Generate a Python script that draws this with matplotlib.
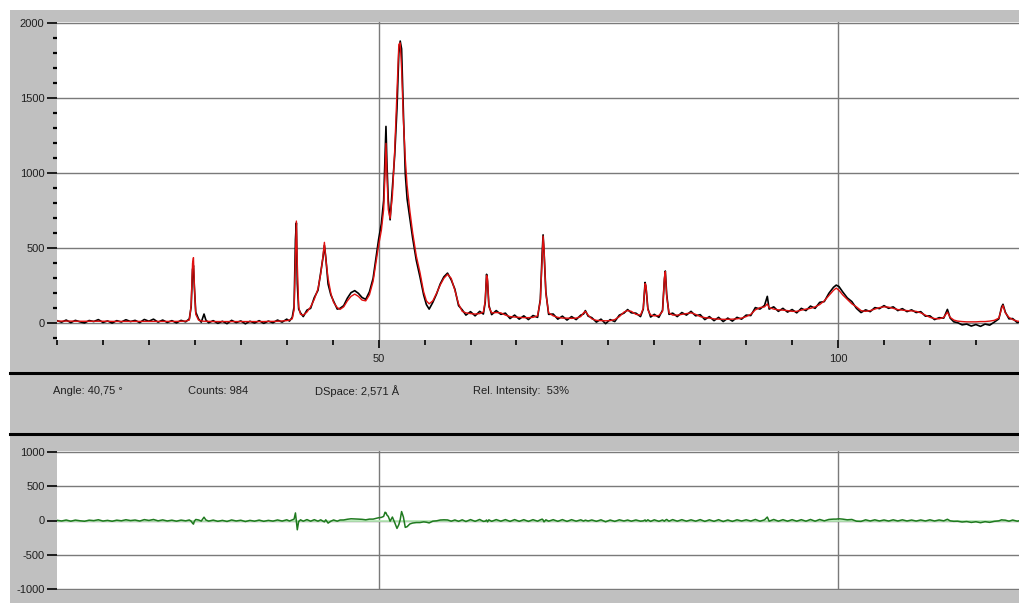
import numpy as np
import matplotlib
matplotlib.use("Agg")
import matplotlib.pyplot as plt
from matplotlib.patches import Rectangle
from matplotlib.lines import Line2D
from matplotlib.ticker import MultipleLocator, FixedLocator

plt.rcParams['font.family'] = ['Liberation Sans', 'DejaVu Sans']
plt.rcParams['axes.unicode_minus'] = False

# 2-theta grid (degrees)
two_theta = [
    15.0, 15.5, 16.0, 16.5, 17.0, 17.5, 18.0, 18.5, 19.0, 19.5,
    20.0, 20.5, 21.0, 21.5, 22.0, 22.5, 23.0, 23.5, 24.0, 24.5,
    25.0, 25.5, 26.0, 26.5, 27.0, 27.5, 28.0, 28.5, 29.0, 29.4,
    29.6, 29.75, 29.85, 29.95, 30.1, 30.4, 30.7, 31.0, 31.2, 31.5,
    32.0, 32.5, 33.0, 33.5, 34.0, 34.5, 35.0, 35.5, 36.0, 36.5,
    37.0, 37.5, 38.0, 38.5, 39.0, 39.5, 40.0, 40.3, 40.6, 40.8,
    40.95, 41.05, 41.15, 41.3, 41.5, 41.8, 42.2, 42.6, 43.0, 43.4,
    43.7, 43.95, 44.1, 44.25, 44.5, 44.8, 45.1, 45.5, 45.8, 46.2,
    46.6, 47.0, 47.4, 47.8, 48.2, 48.6, 49.0, 49.4, 49.7, 50.0,
    50.3, 50.55, 50.7, 50.8, 50.9, 51.05, 51.25, 51.5, 51.75, 52.0,
    52.2, 52.35, 52.5, 52.7, 52.9, 53.1, 53.4, 53.7, 54.1, 54.5,
    54.9, 55.2, 55.5, 55.9, 56.3, 56.7, 57.1, 57.5, 57.9, 58.3,
    58.7, 59.1, 59.5, 60.0, 60.5, 61.0, 61.4, 61.6, 61.75, 61.85,
    62.0, 62.3, 62.8, 63.3, 63.8, 64.3, 64.8, 65.3, 65.8, 66.3,
    66.8, 67.3, 67.6, 67.8, 67.9, 68.0, 68.2, 68.5, 69.0, 69.5,
    70.0, 70.5, 71.0, 71.5, 72.0, 72.3, 72.5, 72.8, 73.2, 73.7,
    74.2, 74.7, 75.2, 75.7, 76.2, 76.7, 77.1, 77.5, 78.0, 78.5,
    78.8, 79.0, 79.1, 79.3, 79.6, 80.0, 80.5, 80.9, 81.1, 81.2,
    81.35, 81.6, 82.0, 82.5, 83.0, 83.5, 84.0, 84.5, 85.0, 85.5,
    86.0, 86.5, 87.0, 87.5, 88.0, 88.5, 89.0, 89.5, 90.0, 90.5,
    91.0, 91.5, 92.0, 92.3, 92.5, 93.0, 93.5, 94.0, 94.5, 95.0,
    95.5, 96.0, 96.5, 97.0, 97.5, 98.0, 98.5, 99.0, 99.5, 99.8,
    100.1, 100.5, 101.0, 101.5, 102.0, 102.5, 103.0, 103.5, 104.0, 104.5,
    105.0, 105.5, 106.0, 106.5, 107.0, 107.5, 108.0, 108.5, 109.0, 109.5,
    110.0, 110.5, 111.0, 111.5, 111.9, 112.2, 112.6, 113.0, 113.5, 114.0,
    114.5, 115.0, 115.5, 116.0, 116.5, 117.0, 117.5, 117.8, 117.95, 118.2,
    118.6, 119.0, 119.5, 120.0,
]

# calculated profile (red)
calc_counts = [
    15, 15, 15, 15, 14, 14, 14, 14, 14, 14,
    14, 14, 13, 13, 13, 13, 13, 13, 13, 13,
    13, 13, 13, 13, 13, 13, 13, 14, 15, 22,
    120, 400, 438, 250, 60, 22, 16, 14, 14, 13,
    12, 12, 12, 12, 12, 12, 12, 12, 12, 12,
    12, 12, 13, 13, 14, 16, 18, 22, 30, 90,
    450, 682, 400, 110, 60, 55, 75, 110, 160, 230,
    330, 450, 540, 430, 300, 200, 140, 105, 93, 110,
    150, 180, 195, 180, 155, 150, 190, 280, 400, 520,
    620, 760, 1000, 1200, 1000, 760, 700, 850, 1150, 1550,
    1860, 1870, 1700, 1350, 1100, 920, 750, 607, 450, 340,
    210, 150, 130, 150, 200, 255, 300, 327, 300, 220,
    130, 80, 70, 65, 62, 65, 75, 150, 320, 300,
    110, 70, 72, 70, 55, 45, 42, 40, 38, 38,
    40, 50, 150, 450, 582, 500, 200, 70, 50, 40,
    35, 35, 33, 35, 45, 70, 80, 55, 30, 20,
    18, 17, 18, 25, 45, 75, 85, 80, 60, 55,
    100, 265, 250, 90, 55, 50, 52, 80, 300, 345,
    180, 70, 55, 55, 60, 65, 70, 60, 45, 38,
    35, 30, 28, 27, 27, 28, 30, 35, 45, 60,
    90, 105, 110, 130, 105, 95, 90, 88, 85, 80,
    80, 88, 95, 100, 110, 125, 150, 185, 220, 235,
    220, 190, 160, 130, 110, 85, 80, 85, 95, 105,
    110, 108, 100, 92, 88, 85, 83, 80, 70, 55,
    40, 32, 30, 40, 75, 40, 22, 15, 12, 10,
    10, 10, 12, 12, 15, 20, 35, 100, 120, 70,
    40, 25, 15, 10,
]

# observed counts (black)
obs_counts = [
    18, 8, 22, 5, 20, 10, 3, 19, 12, 25,
    6, 16, 2, 18, 9, 24, 12, 20, 5, 26,
    14, 28, 8, 22, 6, 18, 3, 20, 10, 30,
    110, 360, 385, 240, 75, 30, 8, 62, 22, 4,
    18, 0, 14, -2, 20, 5, 16, -3, 14, 2,
    18, 0, 15, 4, 22, 8, 28, 15, 40, 110,
    560, 670, 265, 95, 70, 45, 88, 100, 172, 220,
    340, 440, 520, 440, 262, 190, 148, 95, 100, 118,
    168, 205, 218, 200, 172, 160, 210, 300, 430, 560,
    665, 820, 1120, 1313, 1080, 820, 690, 900, 1120, 1435,
    1800, 1882, 1830, 1400, 1000, 830, 700, 570, 420, 310,
    190, 125, 95, 140, 195, 262, 310, 335, 290, 228,
    118, 90, 55, 78, 50, 80, 62, 140, 327, 280,
    120, 58, 85, 60, 68, 32, 55, 28, 50, 25,
    52, 40, 160, 470, 590, 480, 210, 60, 62, 28,
    48, 22, 45, 25, 55, 62, 85, 48, 38, 8,
    28, -2, 25, 12, 55, 68, 92, 70, 68, 45,
    95, 273, 240, 100, 42, 60, 40, 88, 290, 349,
    195, 60, 68, 45, 72, 55, 80, 50, 58, 25,
    45, 18, 40, 12, 35, 15, 40, 28, 55, 52,
    105, 95, 120, 180, 95, 110, 80, 100, 75, 92,
    70, 100, 85, 115, 100, 140, 145, 200, 240, 255,
    245, 210, 170, 145, 100, 72, 90, 78, 105, 98,
    118, 100, 110, 85, 98, 78, 90, 72, 78, 48,
    50, 25, 38, 35, 93, 35, 10, 5, -10, -5,
    -18, -8, -20, -5, -12, 8, 30, 110, 127, 75,
    30, 32, 5, 15,
]

x_major = [50, 100]
y_top_ticks = [0, 500, 1000, 1500, 2000]
y_bot_ticks = [-1000, -500, 0, 500, 1000]

info_labels = ["Angle: 40,75 \u00b0", "Counts: 984", "DSpace: 2,571 \u00c5",
               "Rel. Intensity:  53%"]
info_x = [53, 188, 315, 473]

W, H = 1020, 603
bg = '#c0c0c0'
grid_col = '#7a7a7a'

tt = np.array(two_theta)
calc = np.array(calc_counts)
obs = np.array(obs_counts)
diff = obs - calc

fig = plt.figure(figsize=(W / 100, H / 100), dpi=100, facecolor='white')
fig.patches.append(Rectangle((10 / W, 0), 1.0, 1 - 10 / H, transform=fig.transFigure,
                             facecolor=bg, edgecolor='none', zorder=-5))

def style_axes(ax):
    ax.set_zorder(2)
    ax.set_facecolor('white')
    for s in ax.spines.values():
        s.set_visible(False)
    ax.set_xlim(15, 119.8)
    ax.tick_params(axis='both', colors='black', labelcolor='#202020', labelsize=8)
    ax.set_axisbelow(True)

# top panel: observed vs calculated
ax = fig.add_axes([57 / W, 1 - 340 / H, 963 / W, 318 / H])
style_axes(ax)
ax.set_ylim(-111, 2009)
ax.xaxis.set_major_locator(FixedLocator(x_major))
ax.xaxis.set_minor_locator(MultipleLocator(5))
ax.yaxis.set_major_locator(FixedLocator(y_top_ticks))
ax.yaxis.set_minor_locator(MultipleLocator(100))
ax.tick_params(axis='y', which='major', length=7, width=1.2, pad=2)
ax.tick_params(axis='y', which='minor', length=3, width=1.6)
ax.tick_params(axis='x', which='major', length=6, width=1.2, pad=4)
ax.tick_params(axis='x', which='minor', length=3.5, width=1.2)
ax.grid(True, which='major', color=grid_col, lw=1)
ax.plot(tt, obs, color='black', lw=1.2, zorder=3)
ax.plot(tt, calc, color='#e01010', lw=1.0, zorder=4)

# bottom panel: difference curve
ax2 = fig.add_axes([57 / W, 1 - 590 / H, 963 / W, 139 / H])
style_axes(ax2)
ax2.set_ylim(-1010, 1010)
ax2.set_yticks(y_bot_ticks)
ax2.set_xticks(x_major)
ax2.set_xticklabels([])
ax2.tick_params(axis='x', length=0)
ax2.tick_params(axis='y', length=7, width=1.2, pad=2)
ax2.grid(True, which='major', color=grid_col, lw=1)
ax2.axhline(0, color='#b5ecb5', lw=1.2, zorder=2)
ax2.plot(tt, diff, color='#1f7a1f', lw=1.1, zorder=3)

# separators and info bar
for yy in [373, 434]:
    fig.add_artist(Line2D([10 / W, 1], [1 - yy / H] * 2, color='black', lw=2.2,
                          transform=fig.transFigure))
for lab, xx in zip(info_labels, info_x):
    fig.text(xx / W, 1 - 391 / H, lab, fontsize=8, color='#202020', va='center')

fig.savefig('out.png', dpi=100, facecolor=fig.get_facecolor())
